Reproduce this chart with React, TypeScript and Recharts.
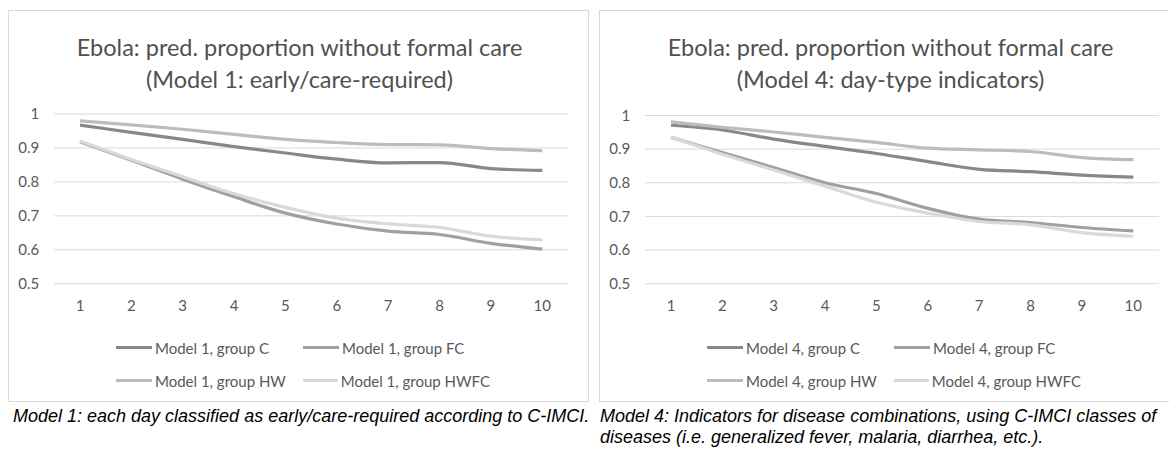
import React from 'react';
import { LineChart, Line, XAxis, YAxis, CartesianGrid, Legend } from 'recharts';

const days = [1, 2, 3, 4, 5, 6, 7, 8, 9, 10];
const yTicks = [0.5, 0.6, 0.7, 0.8, 0.9, 1];

const m1C = [0.967, 0.946, 0.925, 0.904, 0.885, 0.867, 0.856, 0.857, 0.839, 0.834];
const m1FC = [0.918, 0.864, 0.808, 0.756, 0.708, 0.676, 0.655, 0.645, 0.619, 0.602];
const m1HW = [0.98, 0.968, 0.955, 0.94, 0.925, 0.916, 0.91, 0.909, 0.898, 0.892];
const m1HWFC = [0.92, 0.866, 0.815, 0.765, 0.725, 0.693, 0.676, 0.666, 0.64, 0.629];

const m4C = [0.971, 0.957, 0.93, 0.908, 0.887, 0.863, 0.84, 0.833, 0.823, 0.817];
const m4FC = [0.935, 0.89, 0.845, 0.8, 0.768, 0.724, 0.692, 0.682, 0.667, 0.657];
const m4HW = [0.981, 0.965, 0.951, 0.935, 0.92, 0.903, 0.898, 0.893, 0.875, 0.869];
const m4HWFC = [0.935, 0.885, 0.838, 0.79, 0.742, 0.71, 0.685, 0.675, 0.652, 0.641];

const groups = ['C', 'FC', 'HW', 'HWFC'];
const groupColors = ['#888888', '#a0a0a0', '#bcbcbc', '#d9d9d9'];

const leftTitle = ['Ebola: pred. proportion without formal care', '(Model 1: early/care-required)'];
const rightTitle = ['Ebola: pred. proportion without formal care', '(Model 4: day-type indicators)'];
const leftCaption = ['Model 1: each day classified as early/care-required according to C-IMCI.'];
const rightCaption = [
  'Model 4: Indicators for disease combinations, using C-IMCI classes of',
  'diseases (i.e. generalized fever, malaria, diarrhea, etc.).',
];

const FONT = 'Lato, "Open Sans", sans-serif';
const TXT = '#595959';

function buildData(series: number[][]) {
  return days.map((d, i) => {
    const row: any = { day: d };
    groups.forEach((g, j) => {
      row[g] = series[j][i];
    });
    return row;
  });
}

const renderLegend = (props: any) => {
  const { payload } = props;
  return (
    <div
      style={{
        display: 'grid',
        gridTemplateColumns: '187px 187px',
        gridAutoRows: '33px',
        fontFamily: FONT,
        fontSize: 15,
        color: TXT,
      }}
    >
      {(payload || []).map((p: any) => (
        <div key={p.value} style={{ display: 'flex', alignItems: 'center', whiteSpace: 'nowrap' }}>
          <span style={{ display: 'inline-block', width: 36, height: 3, background: p.color, marginRight: 3 }} />
          <span>{p.value}</span>
        </div>
      ))}
    </div>
  );
};

function Panel(props: {
  x: number;
  model: string;
  series: number[][];
  title: string[];
  plotTop: number;
}) {
  const { x, model, series, title, plotTop } = props;
  const data = buildData(series);
  const W = 581;
  const H = 392;
  return (
    <div
      style={{
        position: 'absolute',
        left: x,
        top: 10,
        width: W,
        height: H,
        boxSizing: 'border-box',
        border: '1px solid #d9d9d9',
        background: '#fff',
      }}
    >
      <div
        style={{
          position: 'absolute',
          left: 0,
          top: 20,
          width: W,
          textAlign: 'center',
          fontFamily: FONT,
          fontSize: 23.5,
          lineHeight: '32px',
          color: '#505050',
        }}
      >
        <div>{title[0]}</div>
        <div>{title[1]}</div>
      </div>
      <div style={{ position: 'absolute', left: -1, top: -1 }}>
        <LineChart
          width={W}
          height={H}
          data={data}
          margin={{ top: plotTop, right: 21, bottom: 88.3, left: 6.3 }}
        >
          <CartesianGrid vertical={false} stroke="#d9d9d9" strokeWidth={1} />
          <XAxis
            type="number"
            dataKey="day"
            domain={[0.5, 10.5]}
            ticks={days}
            axisLine={false}
            tickLine={false}
            tickSize={6}
            tickMargin={11}
            height={30}
            tick={{ fill: TXT, fontSize: 15, fontFamily: FONT }}
            interval={0}
          />
          <YAxis
            type="number"
            domain={[0.5, 1]}
            ticks={yTicks}
            axisLine={false}
            tickLine={false}
            tickSize={6}
            tickMargin={9}
            width={40}
            tick={{ fill: TXT, fontSize: 15, fontFamily: FONT }}
            interval={0}
          />
          {groups.map((g, j) => (
            <Line
              key={g}
              type="monotone"
              dataKey={g}
              name={`Model ${model}, group ${g}`}
              stroke={groupColors[j]}
              strokeWidth={3.2}
              dot={false}
              activeDot={false}
              isAnimationActive={false}
            />
          ))}
          <Legend
            layout="horizontal"
            verticalAlign="middle"
            align="center"
            content={renderLegend}
            wrapperStyle={{ position: 'absolute', left: 108, top: 321, width: 400, height: 66 }}
          />
        </LineChart>
      </div>
    </div>
  );
}

export default function App() {
  return (
    <div
      style={{
        position: 'fixed',
        left: 0,
        top: 0,
        width: 1169,
        height: 449,
        overflow: 'hidden',
        background: '#fff',
      }}
    >
      <Panel x={8} model="1" series={[m1C, m1FC, m1HW, m1HWFC]} title={leftTitle} plotTop={104} />
      <Panel x={599} model="4" series={[m4C, m4FC, m4HW, m4HWFC]} title={rightTitle} plotTop={105.5} />
      <div
        style={{
          position: 'absolute',
          left: 13,
          top: 406,
          fontFamily: '"Liberation Sans", Arial, sans-serif',
          fontStyle: 'italic',
          fontSize: 18,
          lineHeight: '21px',
          color: '#000',
          whiteSpace: 'nowrap',
        }}
      >
        {leftCaption.map((l) => (
          <div key={l}>{l}</div>
        ))}
      </div>
      <div
        style={{
          position: 'absolute',
          left: 600,
          top: 406,
          fontFamily: '"Liberation Sans", Arial, sans-serif',
          fontStyle: 'italic',
          fontSize: 18,
          lineHeight: '21px',
          color: '#000',
          whiteSpace: 'nowrap',
        }}
      >
        {rightCaption.map((l) => (
          <div key={l}>{l}</div>
        ))}
      </div>
    </div>
  );
}
